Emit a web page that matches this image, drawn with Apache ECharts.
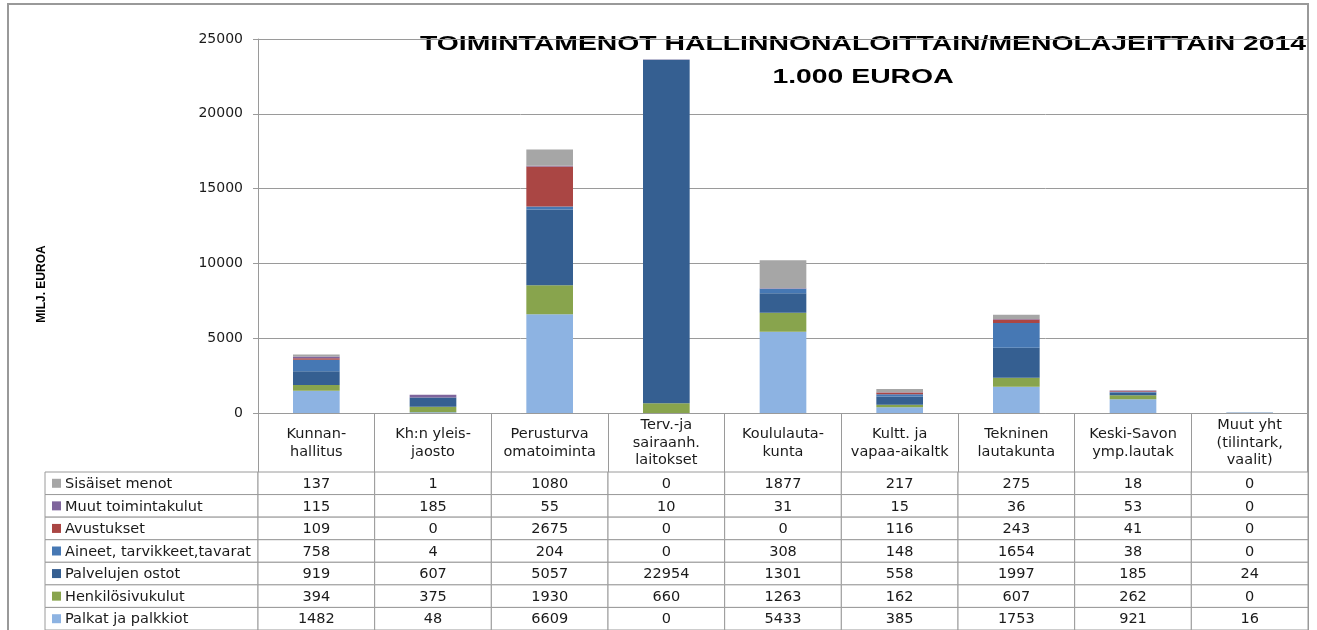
<!DOCTYPE html>
<html>
<head>
<meta charset="utf-8">
<title>Toimintamenot 2014</title>
<script src="https://cdn.jsdelivr.net/npm/echarts@6/dist/echarts.min.js"></script>
<style>
  html, body { margin: 0; padding: 0; background: #fff; }
  #main { width: 1317px; height: 630px; }
</style>
</head>
<body>
<div id="main"></div>
<script type="text/javascript">
    // hallinnonalat (x-akseli)
    var categories = ['Kunnan-\nhallitus', 'Kh:n yleis-\njaosto', 'Perusturva\nomatoiminta', 'Terv.-ja\nsairaanh.\nlaitokset',
        'Koululauta-\nkunta', 'Kultt. ja\nvapaa-aikaltk', 'Tekninen\nlautakunta', 'Keski-Savon\nymp.lautak', 'Muut yht\n(tilintark,\nvaalit)'];

    // menolajit, pinon alimmasta ylimpään
    var palkat = [1482, 48, 6609, 0, 5433, 385, 1753, 921, 16];
    var henkilosivukulut = [394, 375, 1930, 660, 1263, 162, 607, 262, 0];
    var palvelujenOstot = [919, 607, 5057, 22954, 1301, 558, 1997, 185, 24];
    var aineet = [758, 4, 204, 0, 308, 148, 1654, 38, 0];
    var avustukset = [109, 0, 2675, 0, 0, 116, 243, 41, 0];
    var muutToimintakulut = [115, 185, 55, 10, 31, 15, 36, 53, 0];
    var sisaisetMenot = [137, 1, 1080, 0, 1877, 217, 275, 18, 0];

    var yTicks = [0, 5000, 10000, 15000, 20000, 25000];

    var lajit = [
        { name: 'Palkat ja palkkiot', data: palkat, color: '#8DB3E2' },
        { name: 'Henkilösivukulut', data: henkilosivukulut, color: '#88A44D' },
        { name: 'Palvelujen ostot', data: palvelujenOstot, color: '#355F91' },
        { name: 'Aineet, tarvikkeet,tavarat', data: aineet, color: '#4678B4' },
        { name: 'Avustukset', data: avustukset, color: '#AA4644' },
        { name: 'Muut toimintakulut', data: muutToimintakulut, color: '#7F659C' },
        { name: 'Sisäiset menot', data: sisaisetMenot, color: '#A6A6A6' }
    ];

    var plotLeft = 258, plotRight = 1308, tableLeft = 45;
    var colW = (plotRight - plotLeft) / categories.length;
    var legendCols = (plotLeft - tableLeft) / colW;

    // taulukon rivit: ylin = Sisäiset menot
    var rivit = lajit.slice().reverse();
    var cells = [];
    rivit.forEach(function (laji, r) {
        cells.push({ value: [-1, r], text: laji.name, color: laji.color });
        laji.data.forEach(function (v, c) {
            cells.push({ value: [c, r], text: String(v) });
        });
    });

    var font = "'DejaVu Sans', Verdana, sans-serif";
    var titleFont = "bold 21px 'Liberation Sans', Arial, sans-serif";
    var lineCol = '#9A9A9A';
    var txtCol = '#1a1a1a';

    var myChart = echarts.init(document.getElementById('main'));

    var series = lajit.map(function (laji) {
        return {
            name: laji.name,
            type: 'bar',
            stack: 'menot',
            barWidth: '40%',
            xAxisIndex: 0,
            yAxisIndex: 0,
            itemStyle: { color: laji.color },
            data: laji.data
        };
    });

    series.push({
        type: 'custom',
        xAxisIndex: 1,
        yAxisIndex: 1,
        clip: false,
        silent: true,
        data: cells,
        renderItem: function (params, api) {
            var cell = cells[params.dataIndex];
            var col = api.value(0), row = api.value(1);
            var x0 = col === -1 ? -legendCols : col;
            var x1 = col === -1 ? 0 : col + 1;
            var p0 = api.coord([x0, row]);
            var p1 = api.coord([x1, row]);
            var h = api.size([0, 1])[1];
            var top = p0[1] - h / 2;
            var kids = [{
                type: 'rect',
                shape: { x: p0[0], y: top, width: p1[0] - p0[0], height: h },
                style: { fill: '#fff', stroke: lineCol, lineWidth: 1 }
            }];
            if (col === -1) {
                kids.push({
                    type: 'rect',
                    shape: { x: p0[0] + 7, y: p0[1] - 4.5, width: 9, height: 9 },
                    style: { fill: cell.color }
                });
                kids.push({
                    type: 'text',
                    style: { x: p0[0] + 20, y: p0[1] + 1, text: cell.text, fill: txtCol, font: '14.5px ' + font, verticalAlign: 'middle', align: 'left' }
                });
            } else {
                kids.push({
                    type: 'text',
                    style: { x: (p0[0] + p1[0]) / 2, y: p0[1] + 1, text: cell.text, fill: txtCol, font: '14.5px ' + font, verticalAlign: 'middle', align: 'center' }
                });
            }
            return { type: 'group', children: kids };
        }
    });

    var option = {
        animation: false,
        backgroundColor: '#fff',
        grid: [
            { left: plotLeft, right: 1317 - plotRight, top: 39, height: 374, containLabel: false },
            { left: tableLeft, right: 1317 - plotRight, top: 472, height: 161, containLabel: false }
        ],
        xAxis: [
            {
                type: 'category',
                gridIndex: 0,
                data: categories,
                axisLine: { lineStyle: { color: lineCol } },
                axisTick: { show: true, length: 59, alignWithLabel: false, lineStyle: { color: lineCol } },
                axisLabel: { interval: 0, margin: 30, verticalAlign: 'middle', lineHeight: 17.5, color: txtCol, fontSize: 14.5, fontFamily: font },
                splitLine: { show: false }
            },
            { type: 'value', gridIndex: 1, min: -legendCols, max: categories.length, show: false }
        ],
        yAxis: [
            {
                type: 'value',
                gridIndex: 0,
                min: yTicks[0],
                max: yTicks[yTicks.length - 1],
                interval: yTicks[1] - yTicks[0],
                axisLine: { show: true, lineStyle: { color: lineCol } },
                axisTick: { show: true, length: 5, lineStyle: { color: lineCol } },
                axisLabel: { margin: 15, color: txtCol, fontSize: 14, fontFamily: font, formatter: function (v) { return String(v); } },
                splitLine: { show: true, lineStyle: { color: lineCol } }
            },
            { type: 'category', gridIndex: 1, data: rivit.map(function (l) { return l.name; }), inverse: true, show: false }
        ],
        graphic: [
            { type: 'rect', shape: { x: 8, y: 4, width: 1300, height: 640 }, style: { fill: 'none', stroke: '#999', lineWidth: 2 }, silent: true },
            { type: 'text', x: 42, y: 284, rotation: Math.PI / 2, style: { text: 'MILJ. EUROA', font: 'bold 12px "Liberation Sans", Arial, sans-serif', fill: '#000', align: 'center', verticalAlign: 'middle' } },
            { type: 'text', x: 863, y: 44, scaleX: 1.35, style: { text: 'TOIMINTAMENOT HALLINNONALOITTAIN/MENOLAJEITTAIN 2014', font: titleFont, fill: '#000', align: 'center', verticalAlign: 'middle' } },
            { type: 'text', x: 863, y: 77, scaleX: 1.35, style: { text: '1.000 EUROA', font: titleFont, fill: '#000', align: 'center', verticalAlign: 'middle' } }
        ],
        series: series
    };

    myChart.setOption(option);
</script>
</body>
</html>
